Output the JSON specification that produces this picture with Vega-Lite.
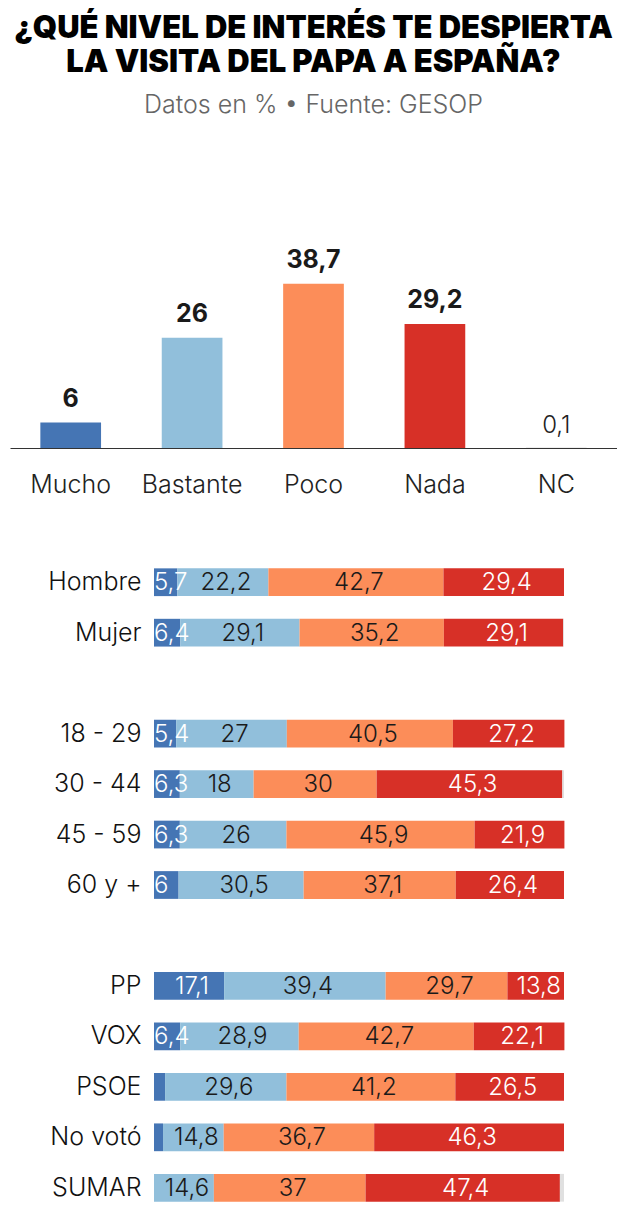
{
  "$schema": "https://vega.github.io/schema/vega-lite/v6.json",
  "padding": {"left": 10, "top": 12, "right": 0, "bottom": 0},
  "background": "white",
  "config": {
    "locale": {"number": {"decimal": ",", "thousands": ".", "grouping": [3], "currency": ["", " €"]}},
    "view": {"stroke": null},
    "font": "Inter",
    "concat": {"spacing": 60}
  },
  "title": {
    "text": ["¿QUÉ NIVEL DE INTERÉS TE DESPIERTA", "LA VISITA DEL PAPA A ESPAÑA?"],
    "subtitle": "Datos en % • Fuente: GESOP",
    "anchor": "middle",
    "font": "Inter",
    "fontSize": 31,
    "fontWeight": 900,
    "color": "#000000",
    "lineHeight": 34,
    "subtitleFont": "Inter",
    "subtitleFontSize": 25,
    "subtitleFontWeight": 300,
    "subtitleColor": "#666666",
    "subtitlePadding": 14,
    "offset": 129
  },
  "datasets": {
    "totals": [
      {"cat": "Mucho", "value": 6},
      {"cat": "Bastante", "value": 26},
      {"cat": "Poco", "value": 38.7},
      {"cat": "Nada", "value": 29.2},
      {"cat": "NC", "value": 0.1}
    ],
    "groups": [
      {"row": "Hombre", "cat": "Mucho", "value": 5.7},
      {"row": "Hombre", "cat": "Bastante", "value": 22.2},
      {"row": "Hombre", "cat": "Poco", "value": 42.7},
      {"row": "Hombre", "cat": "Nada", "value": 29.4},
      {"row": "Mujer", "cat": "Mucho", "value": 6.4},
      {"row": "Mujer", "cat": "Bastante", "value": 29.1},
      {"row": "Mujer", "cat": "Poco", "value": 35.2},
      {"row": "Mujer", "cat": "Nada", "value": 29.1},
      {"row": "Mujer", "cat": "NC", "value": 0.2},
      {"row": "18 - 29", "cat": "Mucho", "value": 5.4},
      {"row": "18 - 29", "cat": "Bastante", "value": 27},
      {"row": "18 - 29", "cat": "Poco", "value": 40.5},
      {"row": "18 - 29", "cat": "Nada", "value": 27.2},
      {"row": "30 - 44", "cat": "Mucho", "value": 6.3},
      {"row": "30 - 44", "cat": "Bastante", "value": 18},
      {"row": "30 - 44", "cat": "Poco", "value": 30},
      {"row": "30 - 44", "cat": "Nada", "value": 45.3},
      {"row": "30 - 44", "cat": "NC", "value": 0.4},
      {"row": "45 - 59", "cat": "Mucho", "value": 6.3},
      {"row": "45 - 59", "cat": "Bastante", "value": 26},
      {"row": "45 - 59", "cat": "Poco", "value": 45.9},
      {"row": "45 - 59", "cat": "Nada", "value": 21.9},
      {"row": "60 y +", "cat": "Mucho", "value": 6},
      {"row": "60 y +", "cat": "Bastante", "value": 30.5},
      {"row": "60 y +", "cat": "Poco", "value": 37.1},
      {"row": "60 y +", "cat": "Nada", "value": 26.4},
      {"row": "PP", "cat": "Mucho", "value": 17.1},
      {"row": "PP", "cat": "Bastante", "value": 39.4},
      {"row": "PP", "cat": "Poco", "value": 29.7},
      {"row": "PP", "cat": "Nada", "value": 13.8},
      {"row": "VOX", "cat": "Mucho", "value": 6.4},
      {"row": "VOX", "cat": "Bastante", "value": 28.9},
      {"row": "VOX", "cat": "Poco", "value": 42.7},
      {"row": "VOX", "cat": "Nada", "value": 22.1},
      {"row": "PSOE", "cat": "Mucho", "value": 2.7},
      {"row": "PSOE", "cat": "Bastante", "value": 29.6},
      {"row": "PSOE", "cat": "Poco", "value": 41.2},
      {"row": "PSOE", "cat": "Nada", "value": 26.5},
      {"row": "No votó", "cat": "Mucho", "value": 2.2},
      {"row": "No votó", "cat": "Bastante", "value": 14.8},
      {"row": "No votó", "cat": "Poco", "value": 36.7},
      {"row": "No votó", "cat": "Nada", "value": 46.3},
      {"row": "SUMAR", "cat": "Mucho", "value": 0},
      {"row": "SUMAR", "cat": "Bastante", "value": 14.6},
      {"row": "SUMAR", "cat": "Poco", "value": 37},
      {"row": "SUMAR", "cat": "Nada", "value": 47.4},
      {"row": "SUMAR", "cat": "NC", "value": 1}
    ]
  },
  "vconcat": [
    {
      "width": 607,
      "height": 191,
      "data": {"name": "totals"},
      "encoding": {
        "x": {
          "field": "cat", "type": "nominal",
          "sort": ["Mucho", "Bastante", "Poco", "Nada", "NC"],
          "scale": {"paddingInner": 0.5, "paddingOuter": 0.25},
          "axis": {
            "title": null, "ticks": false, "domainColor": "#333333", "domainWidth": 1,
            "labelFontSize": 25, "labelFontWeight": 300, "labelColor": "#222222",
            "labelPadding": 24, "labelAngle": 0, "grid": false, "labelFont": "Inter"
          }
        },
        "y": {
          "field": "value", "type": "quantitative",
          "scale": {"domain": [0, 45], "nice": false},
          "axis": null
        }
      },
      "layer": [
        {
          "mark": {"type": "bar"},
          "encoding": {
            "color": {
              "field": "cat", "type": "nominal",
              "scale": {"domain": ["Mucho", "Bastante", "Poco", "Nada", "NC"], "range": ["#4575b4", "#91bfdb", "#fc8d59", "#d73027", "#e0e0e0"]},
              "legend": null
            }
          }
        },
        {
          "transform": [{"filter": "datum.cat != 'NC'"}],
          "mark": {"type": "text", "fontSize": 25, "fontWeight": "bold", "baseline": "alphabetic", "dy": -16, "color": "#1a1a1a", "font": "Inter"},
          "encoding": {"text": {"field": "value", "type": "quantitative", "format": ".1~f"}}
        },
        {
          "transform": [{"filter": "datum.cat == 'NC'"}],
          "mark": {"type": "text", "fontSize": 24, "fontWeight": 300, "baseline": "alphabetic", "dy": -15, "color": "#222222", "font": "Inter"},
          "encoding": {"text": {"field": "value", "type": "quantitative", "format": ".1~f"}}
        }
      ]
    },
    {
      "width": 554,
      "height": 656,
      "data": {"name": "groups"},
      "transform": [
        {"calculate": "indexof(['Mucho','Bastante','Poco','Nada','NC'], datum.cat)", "as": "ord"},
        {"stack": "value", "groupby": ["row"], "sort": [{"field": "ord", "order": "ascending"}], "as": ["x0", "x1"]},
        {"calculate": "(datum.x0 + datum.x1) / 2", "as": "mid"}
      ],
      "encoding": {
        "y": {
          "field": "row", "type": "nominal",
          "scale": {
            "domain": ["Hombre", "Mujer", " ", "18 - 29", "30 - 44", "45 - 59", "60 y +", "  ", "PP", "VOX", "PSOE", "No votó", "SUMAR"],
            "paddingInner": 0.45, "paddingOuter": 0.225
          },
          "axis": {
            "title": null, "ticks": false, "domain": false, "grid": false,
            "labelFontSize": 25, "labelFontWeight": 300, "labelColor": "#111111",
            "labelPadding": 13, "offset": -144, "labelFont": "Inter"
          }
        }
      },
      "layer": [
        {
          "mark": {"type": "bar"},
          "encoding": {
            "x": {"field": "x0", "type": "quantitative", "scale": {"domain": [0, 100], "nice": false, "range": [144, 554]}, "axis": null},
            "x2": {"field": "x1"},
            "color": {
              "field": "cat", "type": "nominal",
              "scale": {"domain": ["Mucho", "Bastante", "Poco", "Nada", "NC"], "range": ["#4575b4", "#91bfdb", "#fc8d59", "#d73027", "#e0e0e0"]},
              "legend": null
            }
          }
        },
        {
          "transform": [{"filter": "datum.cat == 'Mucho' && datum.value >= 3 && datum.value < 10"}],
          "mark": {"type": "text", "fontSize": 24, "fontWeight": 300, "align": "left", "baseline": "middle", "dx": 0, "dy": 1, "color": "#ffffff", "font": "Inter"},
          "encoding": {
            "x": {"field": "x0", "type": "quantitative"},
            "text": {"field": "value", "type": "quantitative", "format": ".1~f"}
          }
        },
        {
          "transform": [{"filter": "datum.cat != 'NC' && datum.value >= 3 && !(datum.cat == 'Mucho' && datum.value < 10)"}],
          "mark": {"type": "text", "fontSize": 24, "fontWeight": 300, "align": "center", "baseline": "middle", "dx": 3, "dy": 1, "font": "Inter"},
          "encoding": {
            "x": {"field": "mid", "type": "quantitative"},
            "text": {"field": "value", "type": "quantitative", "format": ".1~f"},
            "color": {"condition": {"test": "datum.cat == 'Mucho' || datum.cat == 'Nada'", "value": "#ffffff"}, "value": "#1a1a1a"}
          }
        }
      ]
    }
  ]
}
